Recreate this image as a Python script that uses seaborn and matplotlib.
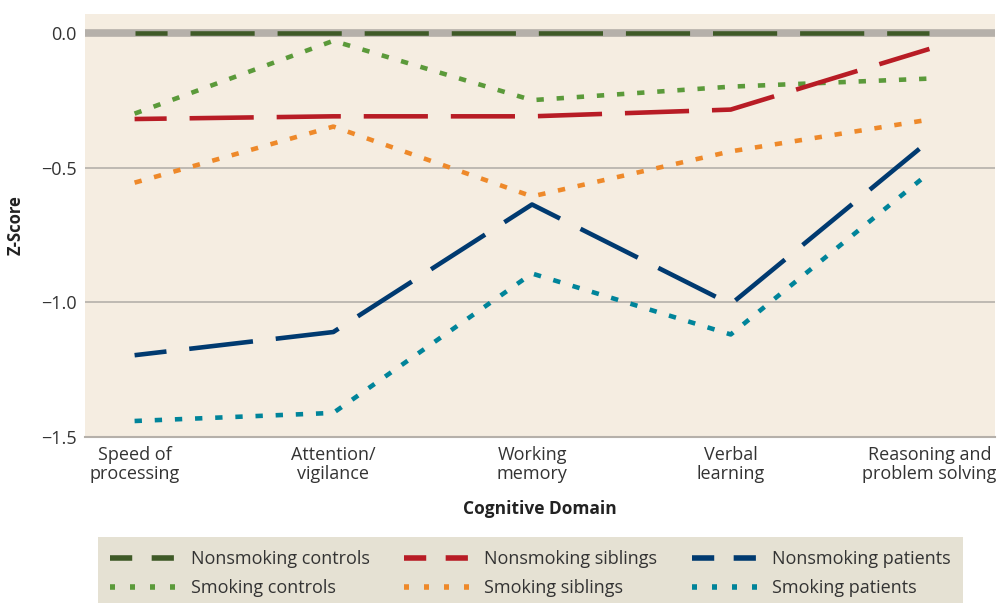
import pandas as pd
import matplotlib.pyplot as plt
from matplotlib.lines import Line2D
import seaborn as sns

domains = ["Speed of\nprocessing", "Attention/\nvigilance", "Working\nmemory",
           "Verbal\nlearning", "Reasoning and\nproblem solving"]
groups = ["Nonsmoking controls", "Smoking controls", "Nonsmoking siblings",
          "Smoking siblings", "Nonsmoking patients", "Smoking patients"]

nonsmoking_controls = [0.0, 0.0, 0.0, 0.0, 0.0]
smoking_controls = [-0.30, -0.03, -0.25, -0.20, -0.17]
nonsmoking_siblings = [-0.32, -0.31, -0.31, -0.285, -0.06]
smoking_siblings = [-0.556, -0.348, -0.607, -0.44, -0.322]
nonsmoking_patients = [-1.196, -1.11, -0.637, -1.007, -0.40]
smoking_patients = [-1.44, -1.41, -0.893, -1.119, -0.519]

series = [nonsmoking_controls, smoking_controls, nonsmoking_siblings,
          smoking_siblings, nonsmoking_patients, smoking_patients]

colors = ["#3f5a27", "#5b9a3a", "#b81c25", "#ee892a", "#003a70", "#00849a"]
long_dash = (14, 5)
dot = (1.6, 2.8)
dash_styles = [long_dash, dot, long_dash, dot, long_dash, dot]
is_dashed = [True, False, True, False, True, False]

rows = []
for g, vals in zip(groups, series):
    for d, v in zip(domains, vals):
        rows.append({"domain": d, "z": v, "group": g})
df = pd.DataFrame(rows)

sns.set_theme(style="white")
plt.rcParams['font.family'] = ['Open Sans', 'DejaVu Sans']

fig = plt.figure(figsize=(9.99, 6.03), dpi=100)
ax = fig.add_axes([0.085, 0.275, 0.911, 0.702])
ax.set_facecolor("#f5ede1")

grid_col = "#b5b0aa"
ax.axhline(0, color=grid_col, lw=5.5, zorder=1)
for yv in [-0.5, -1.0]:
    ax.axhline(yv, color=grid_col, lw=1.2, zorder=1)

n_before = len(ax.lines)
sns.lineplot(data=df, x="domain", y="z", hue="group", style="group",
             hue_order=groups, style_order=groups,
             palette=dict(zip(groups, colors)),
             dashes=dict(zip(groups, dash_styles)),
             linewidth=3.3, legend=False, ax=ax, zorder=3)

for line, dashed in zip(ax.lines[n_before:], is_dashed):
    line.set_dash_capstyle("butt")
    if dashed:
        line.set_linestyle((7, long_dash))

ax.set_xlim(-0.25, 4.33)
ax.set_ylim(-1.5, 0.07)
ax.set_yticks([0.0, -0.5, -1.0, -1.5])
ax.set_yticklabels(["0.0", "\u22120.5", "\u22121.0", "\u22121.5"])
ax.set_xticks(range(len(domains)))
ax.set_xticklabels(domains, linespacing=1.1)
ax.tick_params(axis="both", length=0, labelsize=13, colors="#333333", pad=6)
ax.tick_params(axis="x", pad=6)

for s in ["top", "right", "left"]:
    ax.spines[s].set_visible(False)
ax.spines["bottom"].set_color(grid_col)
ax.spines["bottom"].set_linewidth(1.5)

ax.set_xlabel("Cognitive Domain", fontsize=12.5, fontweight="bold", color="#222222", labelpad=12)
ax.set_ylabel("Z-Score", fontsize=12, fontweight="bold", color="#222222", labelpad=12)

# shorter dash patterns for the legend keys
handles = []
for c, dashed in zip(colors, is_dashed):
    if dashed:
        handles.append(Line2D([], [], color=c, lw=4, linestyle=(0, (4.0, 3.5)),
                              dash_capstyle="butt"))
    else:
        handles.append(Line2D([], [], color=c, lw=4, linestyle=(0, (0.9, 2.7)),
                              dash_capstyle="butt"))

leg = fig.legend(handles, groups, loc="center", bbox_to_anchor=(0.531, 0.049),
                 ncol=3, frameon=True, fontsize=13, handlelength=3.6,
                 columnspacing=1.9, handletextpad=0.85, borderpad=0.7,
                 labelspacing=0.6, fancybox=False, borderaxespad=0)
leg.get_frame().set_facecolor("#dfdac8")
leg.get_frame().set_edgecolor("none")
for t in leg.get_texts():
    t.set_color("#333333")

fig.savefig("out.png", dpi=100, facecolor="white")
